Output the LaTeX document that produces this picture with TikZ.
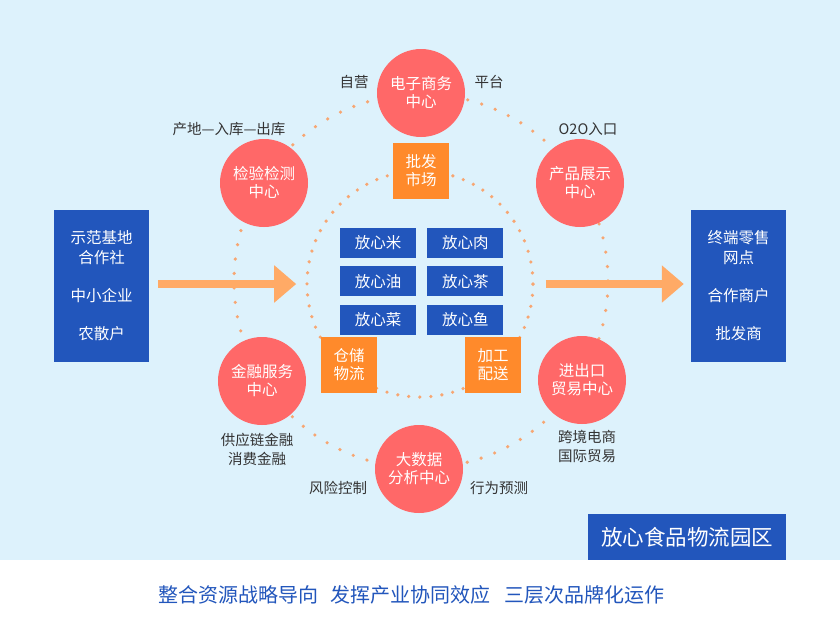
\documentclass[tikz,border=0pt]{standalone}
\usepackage{fontspec}
\newfontfamily\cjk{Noto Sans CJK SC}
\usepackage{tikz}
\usetikzlibrary{arrows.meta,positioning,calc}

\definecolor{bgblue}{HTML}{DDF2FC}
\definecolor{deepblue}{HTML}{2256BC}
\definecolor{ctrred}{HTML}{FF6868}
\definecolor{boxorange}{HTML}{FF8A2B}
\definecolor{arrorange}{HTML}{FFAA66}
\definecolor{dotorange}{HTML}{F7A672}
\definecolor{lblgray}{HTML}{333333}

\begin{document}
\begin{tikzpicture}[
    x=1pt, y=-1pt,
    font=\cjk,
    ctr/.style={
        circle, fill=ctrred, text=white, inner sep=0pt,
        minimum size=88pt, align=center,
        font=\cjk\fontsize{15.5}{18}\selectfont},
    hub/.style={
        fill=boxorange, text=white, inner sep=0pt,
        minimum size=56pt, align=center,
        font=\cjk\fontsize{15.5}{18}\selectfont},
    prod/.style={
        fill=deepblue, text=white, inner sep=0pt,
        minimum width=76pt, minimum height=30pt,
        font=\cjk\fontsize{15.5}{18}\selectfont},
    side/.style={
        fill=deepblue, text=white, inner sep=0pt,
        minimum width=95pt, minimum height=152pt, align=center,
        font=\cjk\fontsize{15.5}{20}\selectfont},
    lbl/.style={
        text=lblgray, align=center, inner sep=0pt,
        font=\cjk\fontsize{14.5}{19}\selectfont},
    ring/.style={
        circle, draw=dotorange, line width=3.6pt, line cap=round,
        inner sep=0pt, dash pattern=on 0pt off #1},
    bigarr/.style={-{Triangle[length=22pt,width=36pt]}, line width=8pt, draw=arrorange}
]

\useasboundingbox (0,0) rectangle (840,630);
\fill[bgblue] (0,0) rectangle (840,560);
\fill[white] (0,560) rectangle (840,630);

%% ══════════════════════════════ RINGS ══════════════════════════════
\node[ring=14.5pt, minimum size=374pt] (outer) at (421,281) {};
\node[ring=11.09pt, minimum size=226pt] (inner) at (420,284) {};

%% ══════════════════════════════ CENTRES ══════════════════════════════
\node[ctr] (ecom)  at (421,93)  {电子商务\\中心};
\node[ctr] (insp)  at (264,183) {检验检测\\中心};
\node[ctr] (expo)  at (580,183) {产品展示\\中心};
\node[ctr] (fin)   at (262,381) {金融服务\\中心};
\node[ctr] (trade) at (582,380) {进出口\\贸易中心};
\node[ctr] (data)  at (419,469) {大数据\\分析中心};

%% Labels round the centres
\node[lbl] (self)   at (354,82)  {自营};
\node[lbl] (plat)   at (489,82)  {平台};
\node[lbl] (chain)  at (229,129) {产地—入库—出库};
\node[lbl] (oto)    at (588,129) {O2O入口};
\node[lbl] (credit) at (257,449.5) {供应链金融\\消费金融};
\node[lbl] (risk)   at (338,488) {风险控制};
\node[lbl] (pred)   at (499,488) {行为预测};
\node[lbl] (cross)  at (587,446.5) {跨境电商\\国际贸易};

%% ══════════════════════════════ INNER ══════════════════════════════
\node[hub] (whsl) at (421,171) {批发\\市场};
\node[hub] (stor) at (349,365) {仓储\\物流};
\node[hub] (proc) at (493,365) {加工\\配送};

\node[prod] (rice) at (378,243) {放心米};
\node[prod, right=11pt of rice] (meat) {放心肉};
\node[prod, below=8pt of rice]  (oil)  {放心油};
\node[prod, right=11pt of oil]  (tea)  {放心茶};
\node[prod, below=8pt of oil]   (veg)  {放心菜};
\node[prod, right=11pt of veg]  (fish) {放心鱼};

%% ══════════════════════════════ SIDES ══════════════════════════════
\node[side] (src) at (101.5,286)
    {示范基地\\合作社\\[18pt]中小企业\\[18pt]农散户};
\node[side] (dst) at (738.5,286)
    {终端零售\\网点\\[18pt]合作商户\\[18pt]批发商};

\draw[bigarr, shorten <=9pt, shorten >=9pt] (src.east |- inner.west) -- (inner.west);
\draw[bigarr, shorten <=11pt, shorten >=7pt] (inner.east) -- (dst.west |- inner.east);

%% ══════════════════════════════ FOOTER ══════════════════════════════
\node[fill=deepblue, text=white, inner sep=0pt, minimum width=198pt, minimum height=46pt,
      font=\cjk\fontsize{21.5}{24}\selectfont] (park) at (687,537) {放心食品物流园区};
\node[text=deepblue, inner sep=0pt, font=\cjk\fontsize{20}{24}\selectfont] (motto) at (411,595)
    {整合资源战略导向\hspace{0.6em}发挥产业协同效应\hspace{0.7em}三层次品牌化运作};

\end{tikzpicture}
\end{document}
